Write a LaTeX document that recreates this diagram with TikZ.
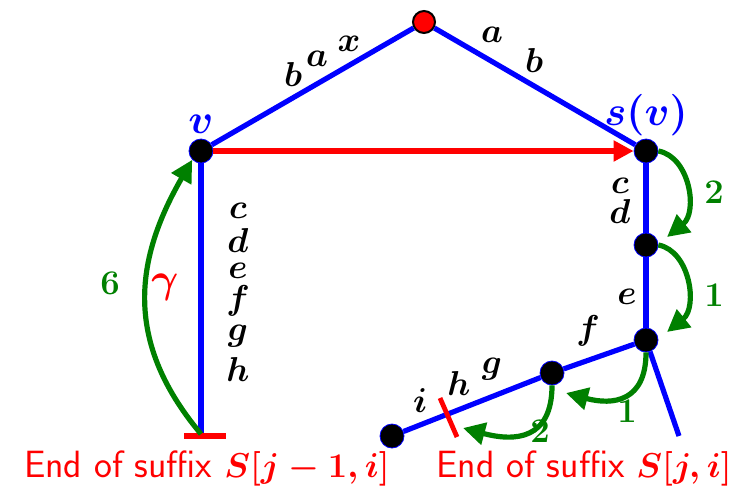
\documentclass[tikz,border=0pt]{standalone}
\usepackage{fontspec}
\usetikzlibrary{arrows.meta}
\begin{document}
\begin{tikzpicture}[x=0.5pt,y=-0.5pt,
    tree/.style={draw=blue, line width=2.6pt},
    vtx/.style={circle, fill=black, draw=blue, line width=0.4pt,
        inner sep=0pt, minimum size=12pt},
    lbl/.style={font=\fontsize{17}{19}\selectfont\boldmath, inner sep=0.5pt},
    garrow/.style={draw=green!50!black, line width=2.6pt,
        -{Triangle[length=11pt,width=11pt]}},
    glbl/.style={font=\fontsize{17}{19}\selectfont\boldmath,
        text=green!50!black, inner sep=0.5pt},
    endlbl/.style={font=\fontsize{19}{22}\selectfont\sffamily\boldmath,
        text=red, inner sep=0.5pt}]

    \useasboundingbox (0,0) rectangle (731,488);

    % Knoten
    \node[circle, fill=red, draw=black, line width=1pt, inner sep=0pt,
        minimum size=11pt] (root) at (424,22) {};
    \node[vtx] (v)  at (201,151) {};
    \node[vtx] (sv) at (646,151) {};
    \node[vtx] (w1) at (646,245) {};
    \node[vtx] (w2) at (646,340) {};
    \node[vtx] (w3) at (552,373) {};
    \node[vtx] (leaf) at (392,436) {};
    \coordinate (vb) at (201,434);
    \coordinate (br) at (679,436);

    % Kanten
    \draw[tree] (root) -- (v);
    \draw[tree] (root) -- (sv);
    \draw[tree] (v) -- (vb);
    \draw[tree] (sv) -- (w1);
    \draw[tree] (w1) -- (w2);
    \draw[tree] (w2) -- (br);
    \draw[tree] (w2) -- (w3);
    \draw[tree] (w3) -- (leaf);

    % Suffix-Link
    \draw[red, line width=2.6pt, -{Triangle[length=10pt,width=10pt]}]
        (v) -- (sv);

    % Enden der Suffixe
    \draw[red, line width=3pt] (184,436) -- (226,436);
    \coordinate (cut1) at (440,398);
    \coordinate (cut2) at (457,437);
    \draw[red, line width=2.4pt] (cut1) -- (cut2);

    % Beschriftungen
    \node[lbl, text=blue, font=\fontsize{20}{22}\selectfont\boldmath]
        (vname) at (201,124) {$v$};
    \node[lbl, text=blue, font=\fontsize{20}{22}\selectfont\boldmath]
        (svname) at (646,115) {$s(v)$};

    \node[lbl] (lb) at (293,74) {$b$};
    \node[lbl] (la) at (317,59) {$a$};
    \node[lbl] (lx) at (349,44) {$x$};
    \node[lbl] (ra) at (492,35) {$a$};
    \node[lbl] (rb) at (534,60) {$b$};

    \foreach \ch/\y in {c/211, d/240, e/271, f/301, g/336, h/369}{
        \node[lbl] (v\ch) at (238,\y) {$\ch$};
    }

    \node[lbl] (sc) at (620,186) {$c$};
    \node[lbl] (sd) at (620,211) {$d$};
    \node[lbl] (se) at (627,297) {$e$};
    \node[lbl] (sf) at (588,331) {$f$};
    \node[lbl] (sg) at (492,369) {$g$};
    \node[lbl] (sh) at (459,383) {$h$};
    \node[lbl] (si) at (420,401) {$i$};

    % Sprünge
    \coordinate (t1) at (566,393);
    \coordinate (t2) at (463,428);
    \coordinate (t3) at (667,237);
    \coordinate (t4) at (667,332);
    \draw[garrow] (sv.east) .. controls (690,157) and (698,212) .. (t3);
    \draw[garrow] (w1.east) .. controls (690,251) and (698,307) .. (t4);
    \draw[garrow] (w2.south) to[out=-90, in=-15, looseness=1.4] (t1);
    \draw[garrow] (w3.south) to[out=-90, in=-15, looseness=1.4] (t2);
    \draw[garrow] (vb) to[out=130, in=-120, looseness=1.1] (v.south west);

    \node[glbl] (n2a) at (714,192) {$2$};
    \node[glbl] (n1a) at (714,295) {$1$};
    \node[glbl] (n1b) at (627,411) {$1$};
    \node[glbl] (n2b) at (540,431) {$2$};
    \node[glbl] (n6)  at (110,283) {$6$};
    \node[lbl, text=red, font=\fontsize{21}{22}\selectfont\boldmath]
        (gam) at (165,287) {$\gamma$};

    \node[endlbl] (end1) at (207,468) {End of suffix $S[j-1,i]$};
    \node[endlbl] (end2) at (584,468) {End of suffix $S[j,i]$};

\end{tikzpicture}
\end{document}
